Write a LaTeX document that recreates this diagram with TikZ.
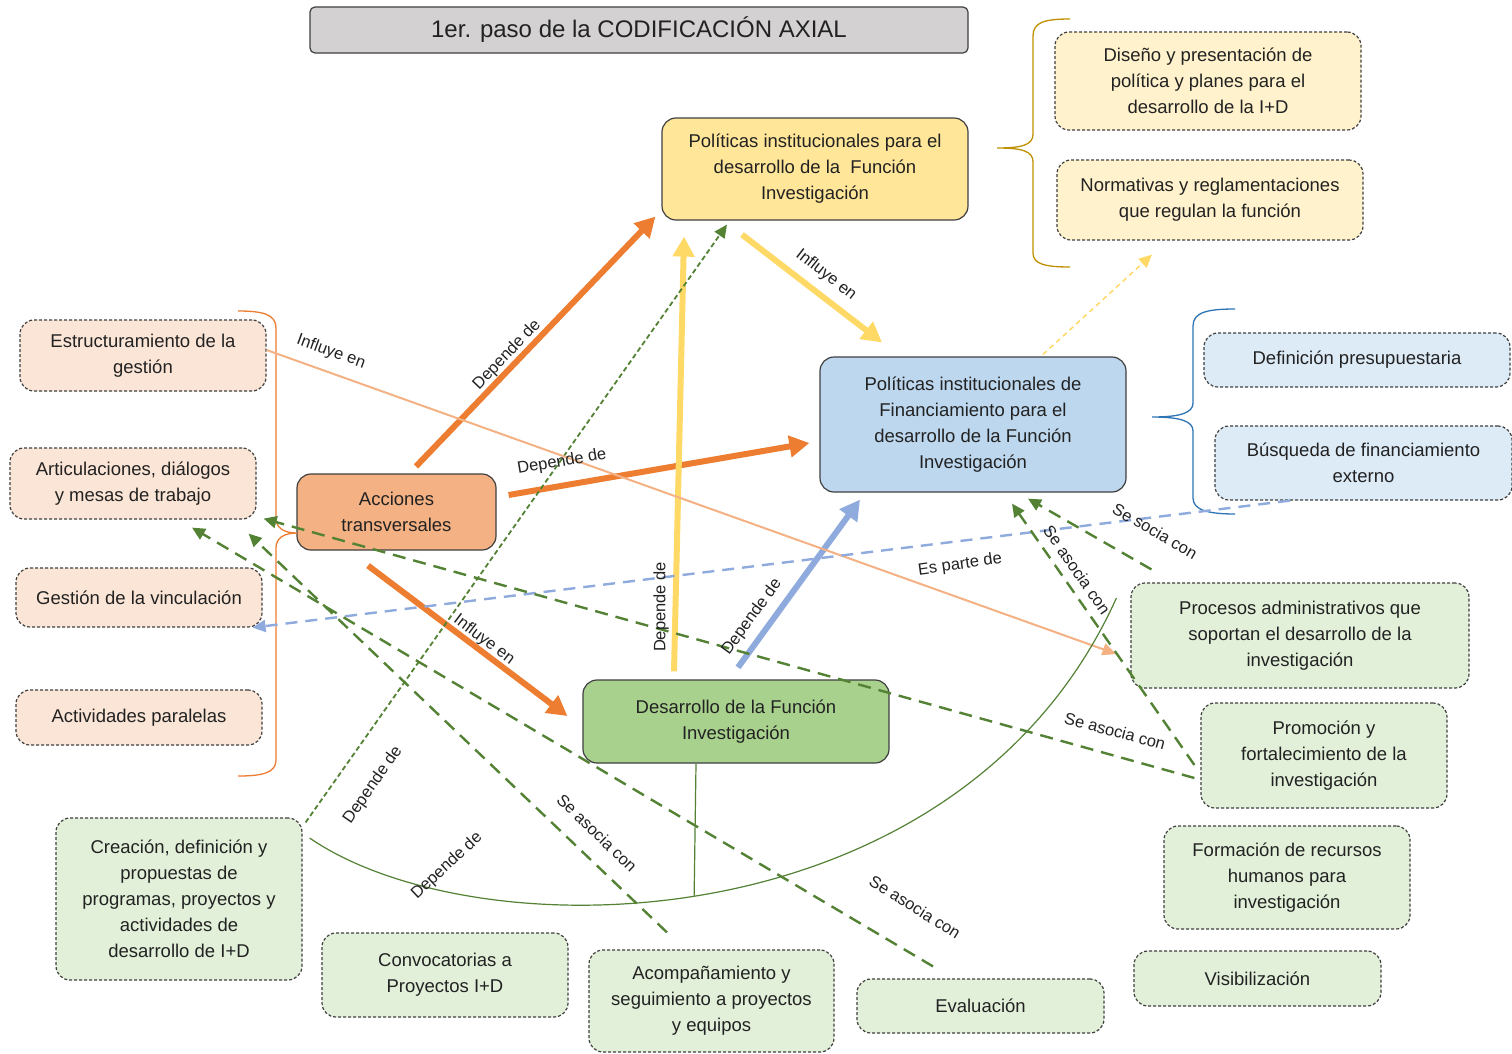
\documentclass[tikz,border=0pt]{standalone}
\usepackage{fontspec}
\setmainfont{Liberation Sans}
\usetikzlibrary{arrows.meta,calc}
\definecolor{txt}{HTML}{222222}
\definecolor{bord}{HTML}{404040}
\definecolor{titlefill}{HTML}{D3D1D1}
\definecolor{yelmain}{HTML}{FFE699}
\definecolor{bluemain}{HTML}{BDD7EE}
\definecolor{orgmain}{HTML}{F4B183}
\definecolor{grnmain}{HTML}{A9D18E}
\definecolor{yellt}{HTML}{FFF2CC}
\definecolor{bluelt}{HTML}{DDEBF7}
\definecolor{peachlt}{HTML}{FBE5D6}
\definecolor{grnlt}{HTML}{E2F0D9}
\definecolor{orgarr}{HTML}{ED7D31}
\definecolor{orgthin}{HTML}{F4B183}
\definecolor{yelarr}{HTML}{FFD966}
\definecolor{bluarr}{HTML}{8FAADC}
\definecolor{grnarr}{HTML}{548235}
\definecolor{goldbrace}{HTML}{BF9000}
\definecolor{bluebrace}{HTML}{2E75B6}
\pgfdeclarelayer{bg}
\pgfsetlayers{bg,main}
\begin{document}
\begin{tikzpicture}[x=1pt,y=-1pt,
  mainbox/.style={draw=bord, line width=1.2pt, rounded corners=14pt, align=center, inner sep=0pt, text=txt, font=\fontsize{18.5}{26}\selectfont},
  subbox/.style={draw=bord, line width=1.2pt, dash pattern=on 3pt off 2pt, rounded corners=14pt, align=center, inner sep=0pt, text=txt, font=\fontsize{18.5}{26}\selectfont},
  lbl/.style={text=txt, inner sep=1pt, font=\fontsize{16.5}{18}\selectfont},
  thickarr/.style={line width=6pt, -{Triangle[length=20pt,width=21pt]}},
  grndash/.style={draw=grnarr, line width=2.4pt, dash pattern=on 13pt off 8pt, -{Triangle[length=13pt,width=12pt]}},
]
\useasboundingbox (0,0) rectangle (1512,1053);
\fill[white] (0,0) rectangle (1512,1053);

% title
\node[draw=bord, line width=1.2pt, fill=titlefill, rounded corners=5pt, minimum width=658pt, minimum height=46pt, inner sep=0pt, text=txt, font=\fontsize{24}{28}\selectfont] (title) at (639,30) {1er. paso de la CODIFICACIÓN AXIAL};

% main nodes
\node[mainbox, fill=yelmain, minimum width=306pt, minimum height=102pt] (top) at (815,169) {Políticas institucionales para el\\desarrollo de la\ \ Función\\Investigación};
\node[mainbox, fill=bluemain, minimum width=306pt, minimum height=135pt] (fin) at (973,424.5) {Políticas institucionales de\\Financiamiento para el\\desarrollo de la Función\\Investigación};
\node[mainbox, fill=orgmain, minimum width=199pt, minimum height=76pt] (acc) at (396.5,512) {Acciones\\transversales};
\node[mainbox, fill=grnmain, minimum width=306pt, minimum height=83pt] (des) at (736,721.5) {Desarrollo de la Función\\Investigación};

% sub nodes
\node[subbox, fill=yellt, minimum width=306pt, minimum height=98pt] (dis) at (1208,81) {Diseño y presentación de\\política y planes para el\\desarrollo de la I+D};
\node[subbox, fill=yellt, minimum width=306pt, minimum height=80pt] (nor) at (1210,200) {Normativas y reglamentaciones\\que regulan la función};
\node[subbox, fill=bluelt, minimum width=306pt, minimum height=54pt] (def) at (1357,360) {Definición presupuestaria};
\node[subbox, fill=bluelt, minimum width=297pt, minimum height=74pt] (bus) at (1363.5,463) {Búsqueda de financiamiento\\externo};
\node[subbox, fill=peachlt, minimum width=246pt, minimum height=71pt] (est) at (143,355.5) {Estructuramiento de la\\gestión};
\node[subbox, fill=peachlt, minimum width=246pt, minimum height=71pt] (art) at (133,483.5) {Articulaciones, diálogos\\y mesas de trabajo};
\node[subbox, fill=peachlt, minimum width=246pt, minimum height=59pt] (ges) at (139,597.5) {Gestión de la vinculación};
\node[subbox, fill=peachlt, minimum width=246pt, minimum height=55pt] (act) at (139,717.5) {Actividades paralelas};
\node[subbox, fill=grnlt, minimum width=246pt, minimum height=162pt] (cre) at (179,899) {Creación, definición y\\propuestas de\\programas, proyectos y\\actividades de\\desarrollo de I+D};
\node[subbox, fill=grnlt, minimum width=246pt, minimum height=84pt] (con) at (445,975) {Convocatorias a\\Proyectos I+D};
\node[subbox, fill=grnlt, minimum width=245pt, minimum height=102pt] (aco) at (711.5,1001) {Acompañamiento y\\seguimiento a proyectos\\y equipos};
\node[subbox, fill=grnlt, minimum width=247pt, minimum height=54pt] (eva) at (980.5,1006) {Evaluación};
\node[subbox, fill=grnlt, minimum width=338pt, minimum height=105pt] (pro) at (1300,635.5) {Procesos administrativos que\\soportan el desarrollo de la\\investigación};
\node[subbox, fill=grnlt, minimum width=246pt, minimum height=105pt] (prm) at (1324,755.5) {Promoción y\\fortalecimiento de la\\investigación};
\node[subbox, fill=grnlt, minimum width=246pt, minimum height=103pt] (for) at (1287,877.5) {Formación de recursos\\humanos para\\investigación};
\node[subbox, fill=grnlt, minimum width=247pt, minimum height=55pt] (vis) at (1257.5,978.5) {Visibilización};

% background connector
\begin{pgfonlayer}{bg}
\draw[yelarr, line width=1.5pt, dash pattern=on 5pt off 4pt] ($(con.north)+(-20,0)$) -- ($(fin.south)+(-78,0)$);
\end{pgfonlayer}

% braces
\draw[goldbrace, line width=1.3pt] (1070,19) .. controls (1045,19) and (1033,22) .. (1033,36) -- (1033,134) .. controls (1033,145) and (1022,148) .. (997,148) .. controls (1022,148) and (1033,151) .. (1033,162) -- (1033,253) .. controls (1033,264) and (1045,267) .. (1070,267);
\draw[bluebrace, line width=1.3pt] (1235,309) .. controls (1208,309) and (1193,312) .. (1193,326) -- (1193,403) .. controls (1193,413) and (1180,417) .. (1152,417) .. controls (1180,417) and (1193,421) .. (1193,431) -- (1193,498) .. controls (1193,510) and (1208,514) .. (1235,514);
\draw[orgarr, line width=1.3pt] (238,311) .. controls (262,311) and (276,314) .. (276,328) -- (276,518) .. controls (276,528) and (284,533) .. (297,533) .. controls (284,533) and (276,538) .. (276,548) -- (276,760) .. controls (276,773) and (262,776) .. (238,776);

% thick arrows
\draw[thickarr, orgarr] ($(acc.north)+(19.5,-7)$) -- ($(top.south west)+(-6,-4)$);
\draw[thickarr, orgarr] ($(acc.east)+(12,-17)$) -- ($(fin.west)+(-10,18.5)$);
\draw[thickarr, orgarr] ($(acc.south)+(-28.5,15)$) -- ($(des.west)+(-15,-5.5)$);
\draw[thickarr, yelarr] ($(des.north)+(-62,-8)$) -- ($(top.south)+(-131,16)$);
\draw[thickarr, yelarr] ($(top.south)+(-73,14)$) -- ($(fin.north)+(-91,-14)$);
\draw[thickarr, bluarr] ($(des.north)+(2,-12)$) -- ($(fin.south)+(-113,7)$);

% thin arrows
\draw[grnarr, line width=1.8pt, dash pattern=on 5pt off 3pt, -{Triangle[length=13pt,width=12pt]}] ($(cre.north east)+(3,5)$) -- ($(top.south)+(-88,4)$);
\draw[yelarr, line width=1.5pt, dash pattern=on 5pt off 4pt, -{Triangle[length=13pt,width=12pt]}] ($(fin.north)+(70,-2)$) -- ($(nor.south)+(-58,14)$);
\draw[orgthin, line width=2pt, -{Triangle[length=14pt,width=12pt]}] ($(est.east)+(0,-5.5)$) -- ($(pro.west)+(-14,18.5)$);
\draw[bluarr, line width=2.4pt, dash pattern=on 12pt off 8pt, -{Triangle[length=13pt,width=12pt]}] ($(bus.south)+(-73.5,0)$) -- ($(ges.south east)+(-10,0)$);

% green dashed arrows
\draw[grndash] ($(prm.west)+(-6,22.5)$) -- ($(art.south east)+(7,-1)$);
\draw[grndash] ($(aco.north)+(-44.5,-17)$) -- ($(art.south east)+(-8,14)$);
\draw[grndash] ($(eva.north)+(-47.5,-12)$) -- ($(art.south)+(59,8)$);
\draw[grndash] ($(prm.west)+(-6,9.5)$) -- ($(fin.south)+(39,11)$);
\draw[grndash] ($(pro.north west)+(21,-13)$) -- ($(fin.south)+(55,6)$);

% arc and stem
\draw[grnarr, line width=1.2pt] ($(cre.east)+(7,-61)$) .. controls (480,955) and (960,945) .. ($(pro.west)+(-14,-37.5)$) coordinate[pos=0.475] (arcmid);
\draw[grnarr, line width=1.2pt] ($(des.south)+(-40,0)$) -- (arcmid);

% labels
\node[lbl, rotate=46.3] (l1) at (507,355) {Depende de};
\node[lbl, rotate=9.8] (l2) at (562,462) {Depende de};
\node[lbl, rotate=-37] (l3) at (484,640) {Influye en};
\node[lbl, rotate=90] (l4) at (661,607) {Depende de};
\node[lbl, rotate=-38] (l5) at (826,275) {Influye en};
\node[lbl, rotate=54] (l6) at (752,617) {Depende de};
\node[lbl, rotate=55] (l7) at (373,785) {Depende de};
\node[lbl, rotate=43] (l8) at (447,866) {Depende de};
\node[lbl, rotate=-20] (l9) at (331,352) {Influye en};
\node[lbl, rotate=8] (l10) at (960,565) {Es parte de};
\node[lbl, rotate=-15] (l11) at (1115,731) {Se asocia con};
\node[lbl, rotate=-44] (l12) at (597,833) {Se asocia con};
\node[lbl, rotate=-32] (l13) at (915,907) {Se asocia con};
\node[lbl, rotate=-55] (l14) at (1077,570) {Se asocia con};
\node[lbl, rotate=-30] (l15) at (1155,531) {Se socia con};
\end{tikzpicture}
\end{document}
